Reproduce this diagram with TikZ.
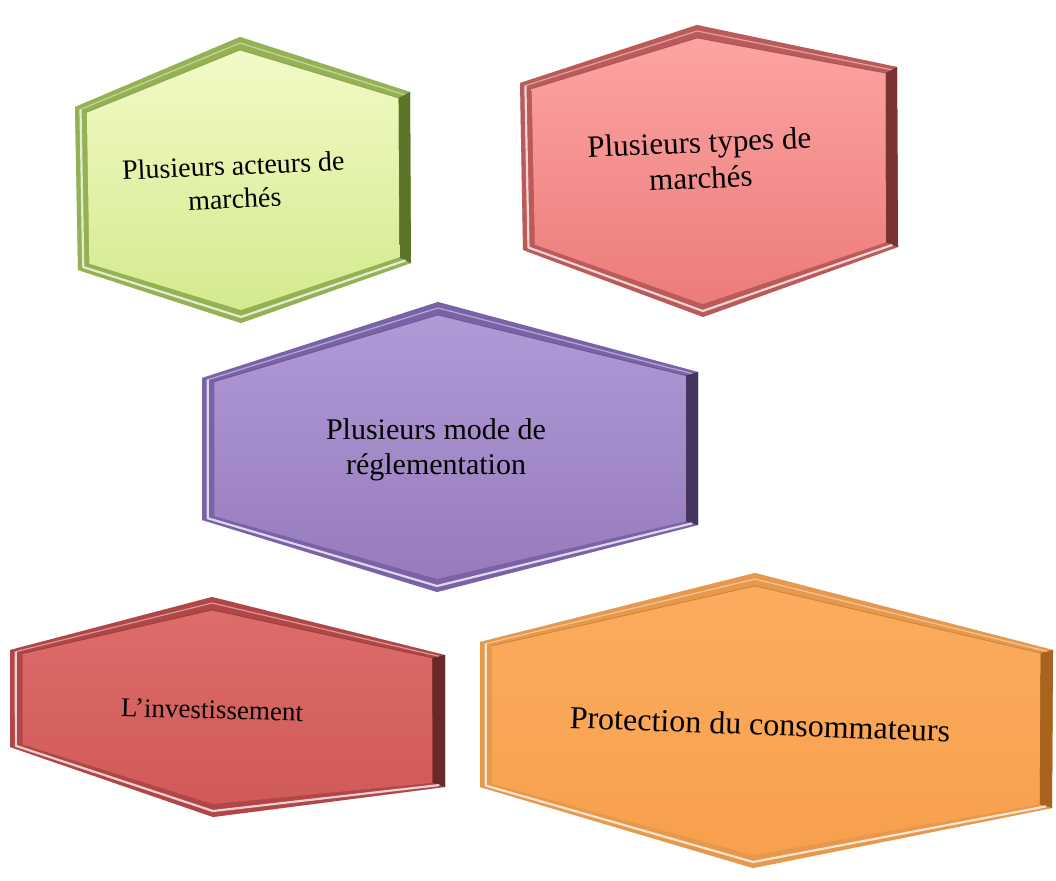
\documentclass[tikz,border=0pt]{standalone}
\usepackage{fontspec}
\setmainfont{Liberation Serif}
\usetikzlibrary{calc,positioning}

% couleurs des hexagones
\definecolor{vertlight}{HTML}{F2FAC6}
\definecolor{vertfill}{HTML}{D4EA8E}
\definecolor{vertrim}{HTML}{94B252}
\definecolor{vertdark}{HTML}{5A7428}
\definecolor{roselight}{HTML}{FCA4A2}
\definecolor{rosefill}{HTML}{EC7C7A}
\definecolor{roserim}{HTML}{BC5A5A}
\definecolor{rosedark}{HTML}{7A3232}
\definecolor{violetlight}{HTML}{B09AD6}
\definecolor{violetfill}{HTML}{977BBC}
\definecolor{violetrim}{HTML}{7A62A8}
\definecolor{violetdark}{HTML}{44365E}
\definecolor{rougelight}{HTML}{DE6C6A}
\definecolor{rougefill}{HTML}{D05A58}
\definecolor{rougerim}{HTML}{B24646}
\definecolor{rougedark}{HTML}{6A2828}
\definecolor{orangelight}{HTML}{FBAC5E}
\definecolor{orangefill}{HTML}{F7A04E}
\definecolor{orangerim}{HTML}{E8984A}
\definecolor{orangedark}{HTML}{A8641E}

% hexagone en relief: #1 prefixe des sommets, #2 prefixe des couleurs
\newcommand{\bevelhex}[2]{%
  \coordinate (#1c) at ($(#1-1)!0.5!(#1-4)$);
  \foreach \k in {1,...,6} {
    \coordinate (#1i\k) at ($(#1-\k)!13pt!(#1c)$);
    \coordinate (#1m\k) at ($(#1-\k)!6pt!(#1c)$);
  }
  \fill[black, opacity=0.10, xshift=7pt, yshift=-9pt] (#1-1) -- (#1-2) -- (#1-3) -- (#1-4) -- (#1-5) -- (#1-6) -- cycle;
  \fill[black, opacity=0.15, xshift=4pt, yshift=-5pt] (#1-1) -- (#1-2) -- (#1-3) -- (#1-4) -- (#1-5) -- (#1-6) -- cycle;
  \fill[#2rim] (#1-1) -- (#1-2) -- (#1-3) -- (#1-4) -- (#1-5) -- (#1-6) -- cycle;
  \fill[#2dark] (#1-2) -- (#1-3) -- (#1i3) -- (#1i2) -- cycle;
  \shade[top color=#2light, bottom color=#2fill] (#1i1) -- (#1i2) -- (#1i3) -- (#1i4) -- (#1i5) -- (#1i6) -- cycle;
  \draw[white, opacity=0.75, line width=2.2pt, line join=round] (#1m6) -- (#1m5) -- (#1m4) -- (#1m3);
  \draw[white, opacity=0.45, line width=1.2pt, line join=round] (#1m6) -- (#1m1) -- (#1m2);
  \draw[#2dark, opacity=0.5, line width=0.8pt] (#1i6) -- (#1i1) -- (#1i2);
}

\begin{document}
\begin{tikzpicture}[
    x=1pt, y=-1pt,
    etiquette/.style={align=center, text=black, inner sep=0pt}
]
\useasboundingbox (0,0) rectangle (1056,880);

% sommets des hexagones
\coordinate (g-1) at (240,37);  \coordinate (g-2) at (410,92);  \coordinate (g-3) at (411,263);
\coordinate (g-4) at (241,323); \coordinate (g-5) at (78,270);  \coordinate (g-6) at (75,107);

\coordinate (p-1) at (697,25);  \coordinate (p-2) at (897,67);  \coordinate (p-3) at (898,247);
\coordinate (p-4) at (703,317); \coordinate (p-5) at (523,250); \coordinate (p-6) at (520,83);

\coordinate (v-1) at (438,302); \coordinate (v-2) at (698,372); \coordinate (v-3) at (698,525);
\coordinate (v-4) at (437,592); \coordinate (v-5) at (202,520); \coordinate (v-6) at (202,378);

\coordinate (r-1) at (212,597); \coordinate (r-2) at (445,655); \coordinate (r-3) at (445,787);
\coordinate (r-4) at (213,817); \coordinate (r-5) at (10,747);  \coordinate (r-6) at (10,650);

\coordinate (o-1) at (755,573); \coordinate (o-2) at (1053,650); \coordinate (o-3) at (1052,808);
\coordinate (o-4) at (753,868); \coordinate (o-5) at (480,787);  \coordinate (o-6) at (480,642);

% Hexagones
\bevelhex{g}{vert}
\bevelhex{p}{rose}
\bevelhex{v}{violet}
\bevelhex{r}{rouge}
\bevelhex{o}{orange}

% Textes
\node[etiquette, font=\fontsize{28}{33}\selectfont, rotate=2.5] (acteurs) at (234,182) {Plusieurs acteurs de\\marchés};
\node[etiquette, font=\fontsize{31}{36}\selectfont, rotate=2.5] (types) at (700,160) {Plusieurs types de\\marchés};
\node[etiquette, font=\fontsize{30}{35}\selectfont] (mode) at (436,450) {Plusieurs mode de\\réglementation};
\node[etiquette, font=\fontsize{27}{30}\selectfont, rotate=-1.5] (invest) at (212,710) {L’investissement};
\node[etiquette, font=\fontsize{32}{34}\selectfont, rotate=-2] (protection) at (760,724) {Protection du consommateurs};
\end{tikzpicture}
\end{document}
